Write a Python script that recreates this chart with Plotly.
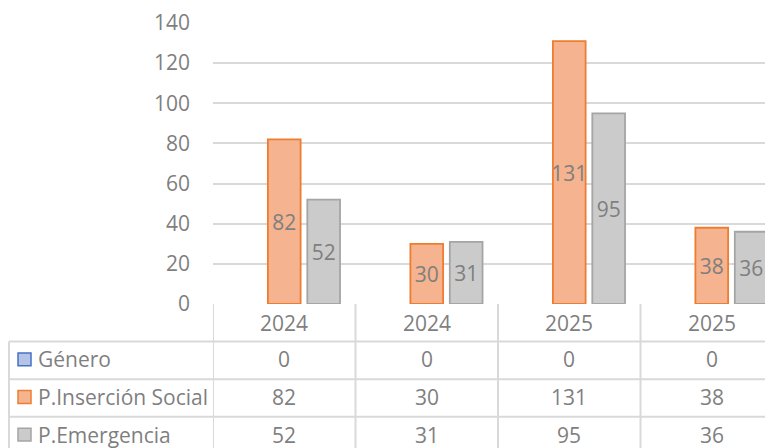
import plotly.graph_objects as go

# ---- data ----
categories = ["2024", "2024", "2025", "2025"]
series_names = ["Género", "P.Inserción Social", "P.Emergencia"]
genero = [0, 0, 0, 0]
insercion = [82, 30, 131, 38]
emergencia = [52, 31, 95, 36]
y_ticks = [0, 20, 40, 60, 80, 100, 120, 140]

# ---- layout constants (pixels, page coordinates) ----
OFF = 8                      # default page body margin
PAGE_W, PAGE_H = 773, 448
W, H = PAGE_W - OFF, PAGE_H - OFF
PL, PT, PB = 213, 20, 304    # plot left / top / bottom in page pixels
L, T = PL - OFF, PT - OFF
PH = PB - PT
B = H - T - PH
R = 0
PW = W - L - R
COL_PX = 142.5
FONT = "Open Sans"
FS = 21
TXT = "#7f7f7f"
GRID = "#d9d9d9"

fills = ["#b4c3e6", "#f5b38f", "#cbcbcb"]
borders = ["#4472c4", "#ed7d31", "#a5a5a5"]

def px_x(p):
    return (p - PL) / PW

def px_y(p):
    return (PB - p) / PH

xs = list(range(len(categories)))
x_max = -0.5 + PW / COL_PX

fig = go.Figure()
all_vals = [genero, insercion, emergencia]
for k, (name, vals) in enumerate(zip(series_names, all_vals)):
    show_text = k > 0
    fig.add_trace(go.Bar(
        x=xs, y=vals, name=name,
        marker=dict(color=fills[k],
                    line=dict(color=borders[k], width=1.8 if k > 0 else 0)),
        text=[str(v) for v in vals] if show_text else None,
        textposition="inside" if show_text else "none",
        insidetextanchor="middle",
        textangle=0,
        constraintext="none",
        textfont=dict(family=FONT, size=FS, color=TXT),
        showlegend=False,
        hoverinfo="x+y+name",
    ))

shapes = []
annotations = []
line = dict(color=GRID, width=2)
y_bot = px_y(PAGE_H + 4)
for i in range(len(categories) + 1):
    shapes.append(dict(type="line", xref="x", yref="paper",
                       x0=i - 0.5, x1=i - 0.5, y0=0, y1=y_bot, line=line))
shapes.append(dict(type="line", xref="paper", yref="paper",
                   x0=px_x(9), x1=px_x(9), y0=px_y(342), y1=y_bot, line=line))
for rp in [342, 380, 418]:
    shapes.append(dict(type="line", xref="paper", yref="paper",
                       x0=px_x(9), x1=1.05, y0=px_y(rp), y1=px_y(rp), line=line))

for i, c in enumerate(categories):
    annotations.append(dict(x=i, y=px_y(323), xref="x", yref="paper", text=c,
                            showarrow=False, xanchor="center", yanchor="middle",
                            font=dict(family=FONT, size=FS, color=TXT)))
row_centers = [360, 398, 436]
for r, (name, vals) in enumerate(zip(series_names, all_vals)):
    yc = row_centers[r]
    annotations.append(dict(x=px_x(36), y=px_y(yc), xref="paper", yref="paper",
                            text=name, showarrow=False, xanchor="left", yanchor="middle",
                            font=dict(family=FONT, size=FS, color=TXT)))
    for i, v in enumerate(vals):
        annotations.append(dict(x=i, y=px_y(yc), xref="x", yref="paper", text=str(v),
                                showarrow=False, xanchor="center", yanchor="middle",
                                font=dict(family=FONT, size=FS, color=TXT)))
    shapes.append(dict(type="rect", xref="paper", yref="paper",
                       x0=px_x(18), x1=px_x(31), y0=px_y(yc - 6.5), y1=px_y(yc + 6.5),
                       fillcolor=fills[r], line=dict(color=borders[r], width=1.5)))

fig.update_layout(
    width=W, height=H,
    margin=dict(l=L, r=R, t=T, b=B, pad=0),
    paper_bgcolor="white", plot_bgcolor="white",
    barmode="group", bargap=0.17, bargroupgap=0.17,
    xaxis=dict(range=[-0.5, x_max], showticklabels=False, showgrid=False,
               zeroline=False, showline=False, ticks=""),
    yaxis=dict(range=[0, 140], tickvals=y_ticks, showgrid=True, gridcolor=GRID,
               gridwidth=1.5, zeroline=False, showline=False, ticks="",
               ticklabelstandoff=22, ticklabeloverflow="allow",
               tickfont=dict(family=FONT, size=FS, color=TXT)),
    shapes=shapes, annotations=annotations,
    font=dict(family=FONT, color=TXT),
)

fig.write_html("out.html")
